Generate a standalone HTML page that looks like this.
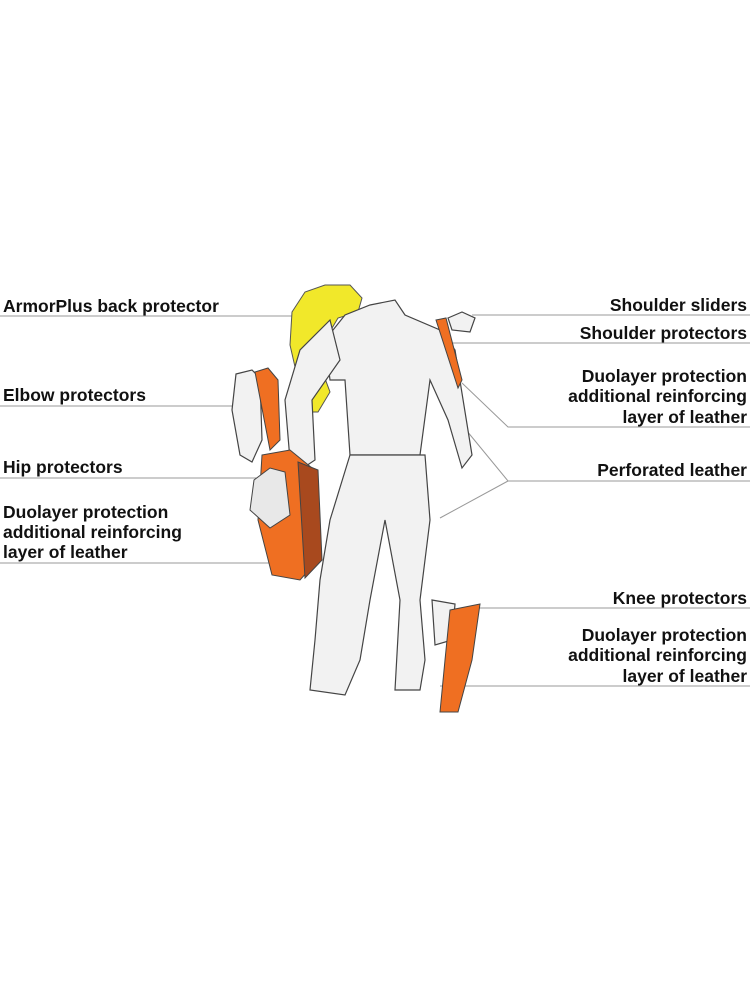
<!DOCTYPE html>
<html><head><meta charset="utf-8"><style>
html,body{margin:0;padding:0;background:#fff;width:750px;height:1000px;overflow:hidden}
svg{display:block}
text{font-family:"Liberation Sans",sans-serif;font-weight:bold;font-size:17.5px;fill:#111}
</style></head><body>
<svg width="750" height="1000" viewBox="0 0 750 1000">
<g stroke="#999" stroke-width="1" fill="none">
<line x1="0" y1="316" x2="300" y2="316"/>
<line x1="0" y1="406" x2="240" y2="406"/>
<line x1="0" y1="478" x2="260" y2="478"/>
<line x1="0" y1="563" x2="290" y2="563"/>
<line x1="472" y1="315" x2="750" y2="315"/>
<line x1="452" y1="343" x2="750" y2="343"/>
<polyline points="462,383 508,427 750,427"/>
<polyline points="462,425 508,481 750,481"/>
<line x1="508" y1="481" x2="440" y2="518"/>
<line x1="470" y1="608" x2="750" y2="608"/>
<line x1="440" y1="686" x2="750" y2="686"/>
</g>
<!-- back protector -->
<path d="M292,312 L305,292 L325,285 L350,285 L362,298 L358,312 L338,318 L328,335 L320,365 L330,392 L318,412 L308,412 L298,380 L290,345 Z" fill="#f1e82a" stroke="#555" stroke-width="1"/>
<!-- suit -->
<g fill="#f2f2f2" stroke="#444" stroke-width="1.2">
<path d="M370,305 L395,300 L405,315 L440,330 L455,350 L472,455 L462,468 L448,420 L430,380 L420,455 L350,455 L345,380 L330,380 L325,340 L345,315 Z"/>
<path d="M330,320 L300,350 L285,400 L290,460 L300,470 L315,460 L312,400 L340,360 Z"/>
<path d="M350,455 L425,455 L430,520 L420,600 L425,660 L420,690 L395,690 L400,600 L385,520 L370,600 L360,660 L345,695 L310,690 L315,640 L320,580 L330,520 Z"/>
<path d="M448,318 L462,312 L475,318 L470,332 L452,330 Z"/>
<path d="M236,374 L252,370 L260,378 L262,440 L252,462 L240,455 L232,410 Z"/>
<path d="M432,600 L455,604 L452,640 L435,645 Z"/>
</g>
<!-- orange pads -->
<g stroke="#444" stroke-width="1">
<path d="M255,372 L268,368 L278,380 L280,440 L270,450 Z" fill="#ef6f22"/>
<path d="M436,320 L446,318 L462,380 L458,388 Z" fill="#ef6f22"/>
<path d="M262,455 L290,450 L312,468 L318,560 L300,580 L272,575 L258,520 Z" fill="#ef6f22"/>
<path d="M298,462 L318,470 L322,560 L305,578 Z" fill="#a8491e"/>
<path d="M254,480 L270,468 L285,472 L290,515 L270,528 L250,510 Z" fill="#e8e8e8"/>
<path d="M450,610 L480,604 L472,660 L458,712 L440,712 L445,660 Z" fill="#ef6f22"/>
</g>
<text x="3" y="312">ArmorPlus back protector</text>
<text x="3" y="401">Elbow protectors</text>
<text x="3" y="473">Hip protectors</text>
<text x="3" y="518">Duolayer protection</text>
<text x="3" y="538">additional reinforcing</text>
<text x="3" y="558">layer of leather</text>
<g text-anchor="end">
<text x="747" y="311">Shoulder sliders</text>
<text x="747" y="339">Shoulder protectors</text>
<text x="747" y="382">Duolayer protection</text>
<text x="747" y="402">additional reinforcing</text>
<text x="747" y="423">layer of leather</text>
<text x="747" y="476">Perforated leather</text>
<text x="747" y="604">Knee protectors</text>
<text x="747" y="641">Duolayer protection</text>
<text x="747" y="661">additional reinforcing</text>
<text x="747" y="682">layer of leather</text>
</g>
</svg>
</body></html>
